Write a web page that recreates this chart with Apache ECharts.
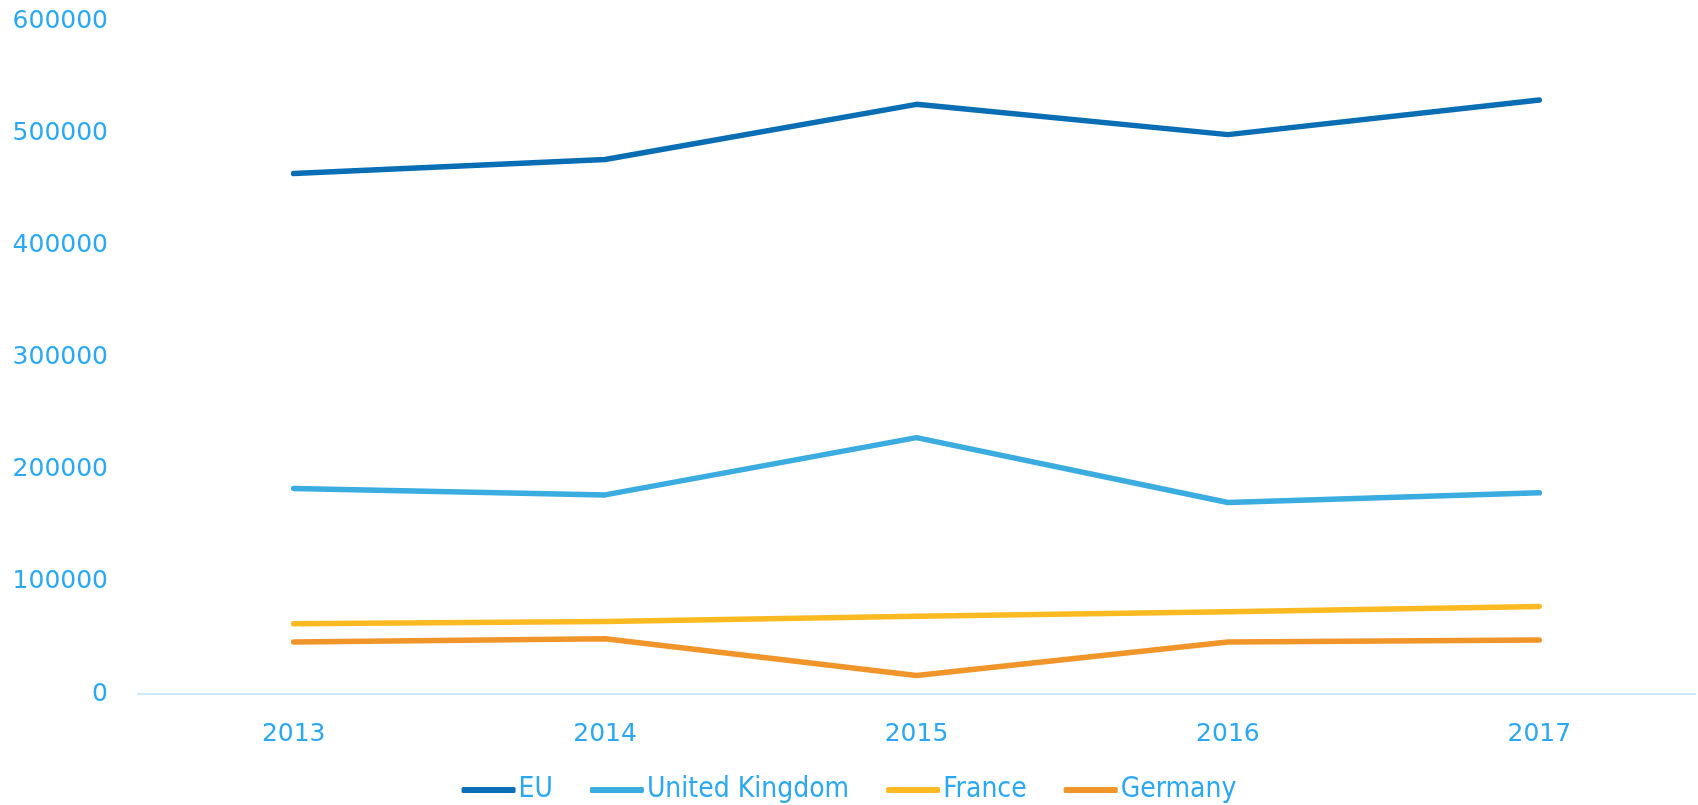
<!DOCTYPE html>
<html>
<head>
<meta charset="utf-8">
<script src="https://cdn.jsdelivr.net/npm/echarts@6/dist/echarts.min.js"></script>
<style>
html,body{margin:0;padding:0;background:#fff;}
#chart{width:1698px;height:805px;}
</style>
</head>
<body>
<div id="chart"></div>
<script>
const categories = ['2013', '2014', '2015', '2016', '2017'];
const euValues = [464000, 476500, 525700, 498700, 529600];
const ukValues = [183300, 177500, 228600, 170700, 179400];
const franceValues = [62700, 64600, 69400, 73300, 78100];
const germanyValues = [46300, 49200, 16400, 46300, 48200];
const seriesNames = ['EU', 'United Kingdom', 'France', 'Germany'];
const seriesColors = ['#0A6EB4', '#3AACDF', '#FBBA22', '#F0952A'];

const textColor = '#2AA8F2';
const allValues = [euValues, ukValues, franceValues, germanyValues];

const chart = echarts.init(document.getElementById('chart'));
chart.setOption({
  animation: false,
  grid: { left: 138, right: 3, top: 21, bottom: 111 },
  legend: {
    bottom: -4,
    left: 'center',
    itemWidth: 54,
    itemHeight: 6,
    itemGap: 37,
    icon: 'roundRect',
    textStyle: { color: textColor, fontSize: 28, fontFamily: 'Liberation Sans Narrow, DejaVu Sans Condensed, sans-serif', padding: [0, 0, 0, -2] },
    data: seriesNames
  },
  xAxis: {
    type: 'category',
    data: categories,
    boundaryGap: true,
    axisLine: { lineStyle: { color: '#CDE8FA', width: 2 } },
    axisTick: { show: false },
    axisLabel: { color: textColor, fontSize: 25, fontFamily: 'DejaVu Sans', margin: 28 }
  },
  yAxis: {
    type: 'value',
    min: 0,
    max: 600000,
    interval: 100000,
    axisLine: { show: false },
    axisTick: { show: false },
    splitLine: { show: false },
    axisLabel: { color: textColor, fontSize: 25, fontFamily: 'DejaVu Sans', margin: 30, formatter: v => String(v) }
  },
  series: seriesNames.map((name, i) => ({
    name: name,
    type: 'line',
    data: allValues[i],
    symbol: 'none',
    color: seriesColors[i],
    lineStyle: { width: 5.5, color: seriesColors[i], cap: 'round', join: 'round' }
  }))
});
</script>
</body>
</html>
